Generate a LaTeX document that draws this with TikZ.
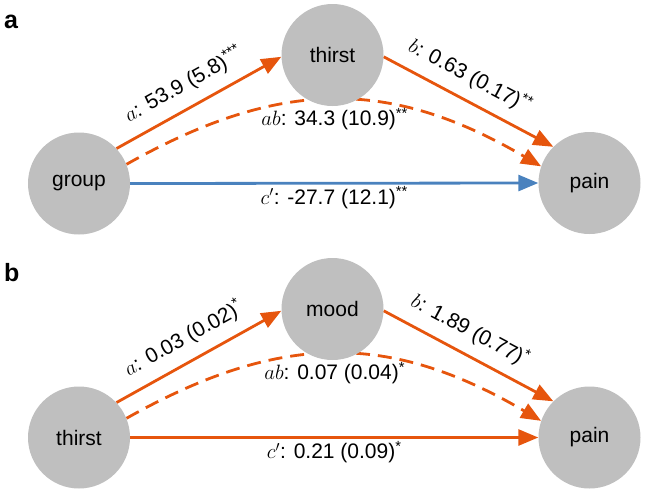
\documentclass[tikz,border=0pt]{standalone}
\usepackage{fontspec}
\setsansfont{Liberation Sans}
\usetikzlibrary{arrows.meta,backgrounds}
\definecolor{orng}{RGB}{230,85,13}
\definecolor{blu}{RGB}{74,130,190}
\definecolor{circ}{RGB}{191,191,191}
\tikzset{
  var/.style={circle, fill=circ, minimum size=102pt, inner sep=0pt, font=\sffamily\fontsize{21}{25}\selectfont},
  eff/.style={line width=2.8pt, -{Triangle[length=20pt,width=16pt]}},
  indir/.style={eff, dash pattern=on 14pt off 8pt},
  lab/.style={text=black, font=\sffamily\fontsize{21}{25}\selectfont, inner sep=2pt},
  panel/.style={font=\sffamily\bfseries\fontsize{25}{30}\selectfont, inner sep=0pt, anchor=base west}
}
\begin{document}
\begin{tikzpicture}[x=1pt,y=-1pt]
\useasboundingbox (0,0) rectangle (645,493);
% panel a
\node[panel] (pa) at (4,28) {a};
\node[var] (g) at (79,183.5) {group};
\node[var] (t) at (332.5,55) {thirst};
\node[var] (p) at (589.5,183) {pain};
% panel b
\node[panel] (pb) at (4,281) {b};
\node[var] (t2) at (79,437.5) {thirst};
\node[var] (m) at (332.5,309) {mood};
\node[var] (p2) at (589.5,437.5) {pain};
\begin{scope}[on background layer]
  \draw[eff,orng] (g.43) -- node[lab,sloped,above=9pt,pos=0.475] {$a$: 53.9 (5.8)\textsuperscript{***}} (t.182);
  \draw[eff,orng] (t.-2) -- node[lab,sloped,above=9pt,pos=0.445] {$b$: 0.63 (0.17)\textsuperscript{**}} (p.135);
  \draw[indir,orng] (g.22) .. controls (280,78) and (390,78) .. node[lab,below=5pt,pos=0.5] {$ab$: 34.3 (10.9)\textsuperscript{**}} (p.161);
  \draw[eff,blu] (g.0) -- node[lab,below=0pt,pos=0.5] {$c'$: -27.7 (12.1)\textsuperscript{**}} (p.180);

  \draw[eff,orng] (t2.43) -- node[lab,sloped,above=9pt,pos=0.475] {$a$: 0.03 (0.02)\textsuperscript{*}} (m.182);
  \draw[eff,orng] (m.-2) -- node[lab,sloped,above=9pt,pos=0.445] {$b$: 1.89 (0.77)\textsuperscript{*}} (p2.135);
  \draw[indir,orng] (t2.22) .. controls (280,332) and (390,332) .. node[lab,below=5pt,pos=0.5] {$ab$: 0.07 (0.04)\textsuperscript{*}} (p2.161);
  \draw[eff,orng] (t2.0) -- node[lab,below=0pt,pos=0.5] {$c'$: 0.21 (0.09)\textsuperscript{*}} (p2.180);
\end{scope}
\end{tikzpicture}
\end{document}
